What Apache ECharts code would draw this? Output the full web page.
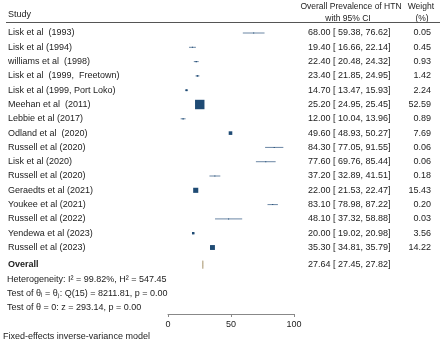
<!DOCTYPE html>
<html>
<head>
<meta charset="utf-8">
<script src="https://cdn.jsdelivr.net/npm/echarts@6/dist/echarts.min.js"></script>
<style>
  html, body { margin: 0; padding: 0; background: #fff; }
  #chart { width: 440px; height: 345px; }
</style>
</head>
<body>
<div id="chart"></div>
<script>
// study rows
var studies = [
  'Lisk et al  (1993)', 'Lisk et al (1994)', 'williams et al  (1998)',
  'Lisk et al  (1999,  Freetown)', 'Lisk et al (1999, Port Loko)', 'Meehan et al  (2011)',
  'Lebbie et al (2017)', 'Odland et al  (2020)', 'Russell et al (2020)', 'Lisk et al (2020)',
  'Russell et al (2020)', 'Geraedts et al (2021)', 'Youkee et al (2021)', 'Russell et al (2022)',
  'Yendewa et al (2023)', 'Russell et al (2023)'
];
var est = [68.00, 19.40, 22.40, 23.40, 14.70, 25.20, 12.00, 49.60, 84.30, 77.60, 37.20, 22.00, 83.10, 48.10, 20.00, 35.30];
var lo  = [59.38, 16.66, 20.48, 21.85, 13.47, 24.95, 10.04, 48.93, 77.05, 69.76, 32.89, 21.53, 78.98, 37.32, 19.02, 34.81];
var hi  = [76.62, 22.14, 24.32, 24.95, 15.93, 25.45, 13.96, 50.27, 91.55, 85.44, 41.51, 22.47, 87.22, 58.88, 20.98, 35.79];
var weights = [0.05, 0.45, 0.93, 1.42, 2.24, 52.59, 0.89, 7.69, 0.06, 0.06, 0.18, 15.43, 0.20, 0.03, 3.56, 14.22];

var overall = { est: 27.64, lo: 27.45, hi: 27.82, row: 16.2 };

var FONT = '"Liberation Sans", Arial, sans-serif';
var F = '9px ' + FONT;
var FH = '8.5px ' + FONT;
var TXT = '#222';

function ciText(e, l, h) {
  return e.toFixed(2) + ' [ ' + l.toFixed(2) + ', ' + h.toFixed(2) + ']';
}

var rows = studies.map(function (s, i) {
  return [i, est[i], lo[i], hi[i], weights[i]];
});

var chart = echarts.init(document.getElementById('chart'), null, { renderer: 'canvas' });

var option = {
  animation: false,
  grid: { left: 168, right: 146, top: 22, bottom: 31 },
  xAxis: {
    type: 'value', min: 0, max: 100, interval: 50,
    splitLine: { show: false },
    axisLine: { show: true, onZero: false, lineStyle: { color: '#888', width: 1 } },
    axisTick: { show: true, length: 3, lineStyle: { color: '#888' } },
    axisLabel: { color: TXT, fontFamily: FONT, fontSize: 9, margin: 6 }
  },
  yAxis: {
    type: 'value', min: -0.77, max: 19.65, inverse: true, show: false
  },
  graphic: [
    { type: 'text', x: 8, y: 15, style: { text: 'Study', font: F, fill: TXT, verticalAlign: 'middle' } },
    { type: 'text', x: 351, y: 7, style: { text: 'Overall Prevalence of HTN', font: FH, fill: TXT, align: 'center', verticalAlign: 'middle' } },
    { type: 'text', x: 348, y: 19, style: { text: 'with 95% CI', font: FH, fill: TXT, align: 'center', verticalAlign: 'middle' } },
    { type: 'text', x: 434, y: 7, style: { text: 'Weight', font: FH, fill: TXT, align: 'right', verticalAlign: 'middle' } },
    { type: 'text', x: 422, y: 19, style: { text: '(%)', font: FH, fill: TXT, align: 'center', verticalAlign: 'middle' } },
    { type: 'line', shape: { x1: 6, y1: 22.5, x2: 440, y2: 22.5 }, style: { stroke: '#555', lineWidth: 1 } },
    { type: 'text', x: 7, y: 280, style: { text: 'Heterogeneity: I\u00B2 = 99.82%, H\u00B2 = 547.45', font: F, fill: TXT, verticalAlign: 'middle' } },
    { type: 'text', x: 7, y: 294, style: { text: 'Test of \u03B8\u1D62 = \u03B8\u2C7C: Q(15) = 8211.81, p = 0.00', font: F, fill: TXT, verticalAlign: 'middle' } },
    { type: 'text', x: 7, y: 308, style: { text: 'Test of \u03B8 = 0: z = 293.14, p = 0.00', font: F, fill: TXT, verticalAlign: 'middle' } },
    { type: 'text', x: 3, y: 337, style: { text: 'Fixed-effects inverse-variance model', font: F, fill: TXT, verticalAlign: 'middle' } }
  ],
  series: [
    {
      type: 'custom',
      clip: false,
      data: rows,
      renderItem: function (params, api) {
        var i = api.value(0);
        var c = api.coord([api.value(1), i]);
        var a = api.coord([api.value(2), i]);
        var b = api.coord([api.value(3), i]);
        // square area follows the weight
        var sz = Math.max(1, 1.3 * Math.sqrt(api.value(4)));
        var y = c[1];
        return {
          type: 'group',
          children: [
            { type: 'line', shape: { x1: a[0], y1: y, x2: b[0], y2: y }, style: { stroke: '#6a86a4', lineWidth: 1 } },
            { type: 'rect', shape: { x: c[0] - sz / 2, y: y - sz / 2, width: sz, height: sz }, style: { fill: '#1f4b74' } },
            { type: 'text', x: 8, y: y, style: { text: studies[i], font: F, fill: TXT, verticalAlign: 'middle', align: 'left' } },
            { type: 'text', x: 308, y: y, style: { text: ciText(est[i], lo[i], hi[i]), font: F, fill: TXT, verticalAlign: 'middle', align: 'left' } },
            { type: 'text', x: 431, y: y, style: { text: weights[i].toFixed(2), font: F, fill: TXT, verticalAlign: 'middle', align: 'right' } }
          ]
        };
      }
    },
    {
      type: 'custom',
      clip: false,
      data: [[overall.row, overall.est, overall.lo, overall.hi]],
      renderItem: function (params, api) {
        var r = api.value(0);
        var top = api.coord([api.value(1), r - 0.28]);
        var left = api.coord([api.value(2), r]);
        var right = api.coord([api.value(3), r]);
        var bot = api.coord([api.value(1), r + 0.28]);
        return {
          type: 'group',
          children: [
            { type: 'polygon', shape: { points: [left, top, right, bot] }, style: { fill: '#c9bb9c', stroke: '#b9a98a', lineWidth: 0.8 } },
            { type: 'text', x: 8, y: left[1], style: { text: 'Overall', font: 'bold ' + F, fill: TXT, verticalAlign: 'middle' } },
            { type: 'text', x: 308, y: left[1], style: { text: ciText(overall.est, overall.lo, overall.hi), font: F, fill: TXT, verticalAlign: 'middle' } }
          ]
        };
      }
    }
  ]
};
chart.setOption(option);
</script>
</body>
</html>
